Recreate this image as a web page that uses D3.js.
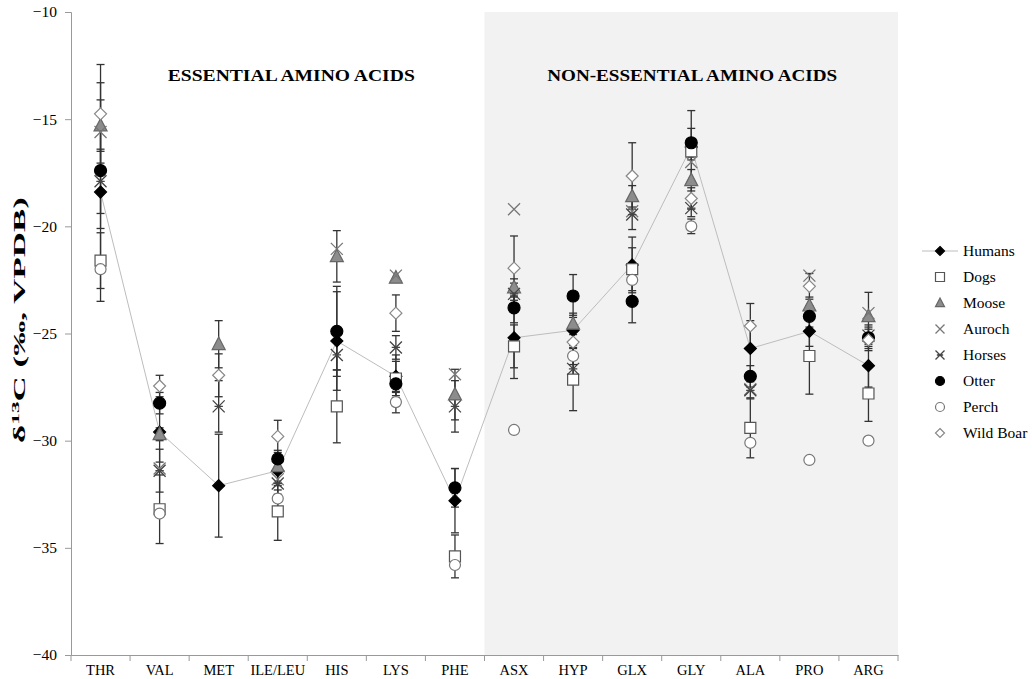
<!DOCTYPE html>
<html>
<head>
<meta charset="utf-8">
<script src="https://cdn.jsdelivr.net/npm/d3@7"></script>
<style>
  body { margin: 0; background: #fff; }
  text { font-family: "Liberation Serif", "Times New Roman", serif; }
</style>
</head>
<body>
<div id="chart"></div>
<script>
// amino acids on the x axis
const categories = ['THR', 'VAL', 'MET', 'ILE/LEU', 'HIS', 'LYS', 'PHE', 'ASX', 'HYP', 'GLX', 'GLY', 'ALA', 'PRO', 'ARG'];
const yTicks = [-10, -15, -20, -25, -30, -35, -40];

// mean d13C per species (null = not measured)
const humans = [-18.4, -29.6, -32.1, -31.4, -25.35, -27.0, -32.8, -25.2, -24.85, -21.8, -16.3, -25.7, -24.9, -26.5];
const dogs   = [-21.6, -33.2, null, -33.3, -28.4, -27.1, -35.4, -25.6, -27.15, -22.0, -16.5, -29.4, -26.05, -27.8];
const moose  = [-15.3, -29.7, -25.5, -31.2, -21.4, -22.4, -27.85, -22.85, -24.55, -18.6, -17.85, null, -23.7, -24.2];
const auroch = [-15.6, -31.3, null, -31.8, -21.05, -22.3, -26.9, -19.2, null, -19.3, -17.0, -27.6, -22.3, -24.05];
const horses = [-17.9, -31.4, -28.4, -32.0, -26.0, -25.65, -28.4, -23.15, -26.65, -19.45, -19.15, -27.65, null, -25.1];
const otter  = [-17.4, -28.25, null, -30.85, -24.9, -27.35, -32.2, -23.8, -23.25, -23.5, -16.1, -27.0, -24.2, -25.2];
const perch  = [-22.0, -33.4, null, -32.7, null, -28.2, -35.8, -29.5, -26.05, -22.5, -20.0, -30.1, -30.9, -30.0];
const boar   = [-14.75, -27.45, -26.95, -29.8, null, -24.05, null, -21.95, -25.4, -17.65, -18.7, -24.65, -22.8, -25.3];

// standard deviations (error bars)
const humansSd = [5.1, 1.4, 2.4, 0.7, 2.3, 1.0, 1.5, 1.9, 0.7, 1.3, 1.7, 1.3, 0.7, 1.0];
const dogsSd   = [1.3, 1.6, null, 1.35, 1.7, 0.8, 1.0, 1.0, 1.45, 1.0, 0.4, 1.4, 1.78, 1.3];
const mooseSd  = [1.2, 0.3, 1.1, 0.3, 1.2, null, 1.18, 0.4, 0.5, 0.5, 0.5, null, 0.4, 1.12];
const aurochSd = [null, null, null, null, null, null, null, null, null, null, null, null, null, null];
const horsesSd = [1.5, 1.0, 1.2, 0.5, 0.7, 0.55, 1.2, 0.5, 0.5, 0.7, 0.4, 0.4, null, 0.5];
const otterSd  = [2.7, 0.5, null, 0.4, 2.1, 0.4, 0.9, 0.7, 1.0, 1.0, 0.67, 0.5, 0.5, 0.5];
const perchSd  = [null, null, null, 0.4, null, 0.5, null, null, 0.4, null, 0.34, null, null, null];
const boarSd   = [2.3, 0.5, 1.0, 0.75, null, 0.85, null, 1.5, 0.5, 1.55, 0.5, 1.05, 0.6, 0.5];

const series = [
  { name: 'Humans', values: humans, sd: humansSd, shape: 'diamond', fill: '#000', stroke: '#000' },
  { name: 'Dogs', values: dogs, sd: dogsSd, shape: 'square', fill: '#fff', stroke: '#555' },
  { name: 'Moose', values: moose, sd: mooseSd, shape: 'triangle', fill: '#8c8c8c', stroke: '#666' },
  { name: 'Auroch', values: auroch, sd: aurochSd, shape: 'x', fill: 'none', stroke: '#777' },
  { name: 'Horses', values: horses, sd: horsesSd, shape: 'star', fill: 'none', stroke: '#444' },
  { name: 'Otter', values: otter, sd: otterSd, shape: 'circle', fill: '#000', stroke: '#000' },
  { name: 'Perch', values: perch, sd: perchSd, shape: 'circle', fill: '#fff', stroke: '#777' },
  { name: 'Wild Boar', values: boar, sd: boarSd, shape: 'diamond', fill: '#fff', stroke: '#888' }
];

const W = 1032, H = 679;
const margin = { top: 12, right: 134, bottom: 24, left: 71 };

const svg = d3.select('#chart').append('svg')
  .attr('width', W).attr('height', H);

const x = d3.scaleBand()
  .domain(categories)
  .range([margin.left, W - margin.right]);

const y = d3.scaleLinear()
  .domain([-40, -10])
  .range([H - margin.bottom, margin.top]);

// shaded panel for the non-essential amino acids
svg.append('rect')
  .attr('x', x('ASX'))
  .attr('y', y(-10))
  .attr('width', x.range()[1] - x('ASX'))
  .attr('height', y(-40) - y(-10))
  .attr('fill', '#f2f2f2');

// axes
const yAxis = svg.append('g')
  .attr('transform', `translate(${margin.left},0)`)
  .call(d3.axisLeft(y).tickValues(yTicks).tickSize(6).tickPadding(8).tickFormat(d3.format('d')));
yAxis.selectAll('path, line').attr('stroke', '#999');
yAxis.selectAll('text')
  .style('font-family', '"Liberation Serif", serif')
  .style('font-size', '15.5px')
  .attr('fill', '#000');

const xAxis = svg.append('g')
  .attr('transform', `translate(0,${y(-40)})`)
  .call(d3.axisBottom(x).tickSize(0).tickPadding(10));
xAxis.select('.domain').attr('stroke', '#999');
xAxis.selectAll('text')
  .style('font-family', '"Liberation Serif", serif')
  .style('font-size', '14.5px')
  .attr('fill', '#000');
// tick marks at category boundaries
xAxis.selectAll('.boundary')
  .data(categories.concat(['__end']))
  .join('line')
  .attr('class', 'boundary')
  .attr('x1', (d, i) => x.range()[0] + i * x.step())
  .attr('x2', (d, i) => x.range()[0] + i * x.step())
  .attr('y1', 0).attr('y2', 6)
  .attr('stroke', '#999');

// section titles
svg.append('text')
  .attr('x', x('HIS') - 16)
  .attr('y', 81)
  .attr('text-anchor', 'middle')
  .attr('textLength', 247)
  .attr('lengthAdjust', 'spacingAndGlyphs')
  .style('font-size', '17px')
  .style('font-weight', 'bold')
  .text('ESSENTIAL AMINO ACIDS');

svg.append('text')
  .attr('x', (x('ASX') + x.range()[1]) / 2 + 1)
  .attr('y', 81)
  .attr('text-anchor', 'middle')
  .attr('textLength', 290)
  .attr('lengthAdjust', 'spacingAndGlyphs')
  .style('font-size', '17px')
  .style('font-weight', 'bold')
  .text('NON-ESSENTIAL AMINO ACIDS');

// y axis title
const yTitle = svg.append('text')
  .attr('transform', `translate(25,320) rotate(-90)`)
  .attr('text-anchor', 'middle')
  .attr('textLength', 246)
  .attr('lengthAdjust', 'spacingAndGlyphs')
  .style('font-size', '16.5px')
  .style('font-weight', 'bold');
yTitle.append('tspan').text('δ');
yTitle.append('tspan').attr('dy', -6).style('font-size', '11px').text('13');
yTitle.append('tspan').attr('dy', 6).text('C (‰, VPDB)');

const cx = d => x(d) + x.bandwidth() / 2;

// error bars
series.forEach(s => {
  const bars = categories.map((c, i) => ({ c, v: s.values[i], sd: s.sd[i] }))
    .filter(d => d.v != null && d.sd != null);
  const g = svg.append('g').attr('stroke', '#333').attr('stroke-width', 1.3);
  g.selectAll('line.v').data(bars).join('line')
    .attr('x1', d => cx(d.c)).attr('x2', d => cx(d.c))
    .attr('y1', d => y(d.v + d.sd)).attr('y2', d => y(d.v - d.sd));
  g.selectAll('line.t').data(bars).join('line')
    .attr('x1', d => cx(d.c) - 4).attr('x2', d => cx(d.c) + 4)
    .attr('y1', d => y(d.v + d.sd)).attr('y2', d => y(d.v + d.sd));
  g.selectAll('line.b').data(bars).join('line')
    .attr('x1', d => cx(d.c) - 4).attr('x2', d => cx(d.c) + 4)
    .attr('y1', d => y(d.v - d.sd)).attr('y2', d => y(d.v - d.sd));
});

// humans connecting line
svg.append('path')
  .datum(categories.map((c, i) => [cx(c), y(humans[i])]))
  .attr('d', d3.line())
  .attr('fill', 'none')
  .attr('stroke', '#bdbdbd')
  .attr('stroke-width', 1);

function markerPath(shape, r) {
  const p = d3.path();
  if (shape === 'diamond') {
    p.moveTo(0, -r); p.lineTo(r, 0); p.lineTo(0, r); p.lineTo(-r, 0); p.closePath();
  } else if (shape === 'square') {
    p.rect(-r, -r, 2 * r, 2 * r);
  } else if (shape === 'triangle') {
    const h = r * 1.1;
    p.moveTo(0, -h); p.lineTo(r, h * 0.75); p.lineTo(-r, h * 0.75); p.closePath();
  } else if (shape === 'x') {
    p.moveTo(-r, -r); p.lineTo(r, r); p.moveTo(r, -r); p.lineTo(-r, r);
  } else if (shape === 'star') {
    p.moveTo(-r, -r); p.lineTo(r, r); p.moveTo(r, -r); p.lineTo(-r, r);
    p.moveTo(-r * 0.7, 0); p.lineTo(r * 0.7, 0);
  } else {
    p.arc(0, 0, r, 0, 2 * Math.PI);
  }
  return p.toString();
}

const sizes = { diamond: 6, square: 5.5, triangle: 6.5, x: 6, star: 6, circle: 6 };

function drawMarker(sel, s, r) {
  sel.append('path')
    .attr('d', markerPath(s.shape, r))
    .attr('fill', s.fill)
    .attr('stroke', s.stroke)
    .attr('stroke-width', s.shape === 'x' || s.shape === 'star' ? 1.3 : 1.2);
}

// markers
series.forEach(s => {
  const pts = categories.map((c, i) => ({ c, v: s.values[i] })).filter(d => d.v != null);
  const r = s.name === 'Perch' ? 5.5 : sizes[s.shape];
  svg.append('g').selectAll('g').data(pts).join('g')
    .attr('transform', d => `translate(${cx(d.c)},${y(d.v)})`)
    .each(function () { drawMarker(d3.select(this), s, r); });
});

// legend
const legend = svg.append('g').attr('transform', 'translate(940,251)');
series.forEach((s, i) => {
  const row = legend.append('g').attr('transform', `translate(0,${i * 26})`);
  if (s.name === 'Humans') {
    row.append('line').attr('x1', -18).attr('x2', 18).attr('stroke', '#bdbdbd').attr('stroke-width', 1);
  }
  drawMarker(row, s, 4.5);
  row.append('text')
    .attr('x', 23)
    .attr('dy', '0.35em')
    .style('font-size', '15.5px')
    .text(s.name);
});
</script>
</body>
</html>
